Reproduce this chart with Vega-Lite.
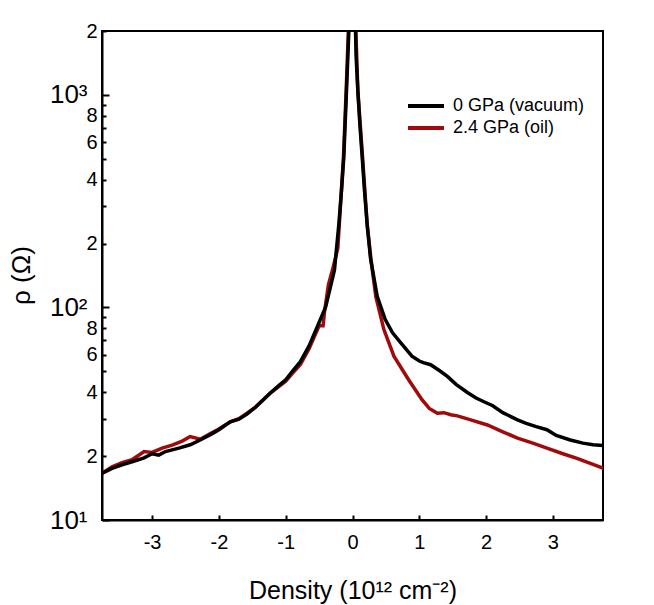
{
  "$schema": "https://vega.github.io/schema/vega-lite/v6.json",
  "width": 501,
  "height": 489,
  "autosize": {"type": "none"},
  "padding": {"left": 102, "top": 31, "right": 51, "bottom": 85},
  "config": {
    "font": "Liberation Sans",
    "view": {"stroke": "#000000", "strokeWidth": 2},
    "axis": {"grid": false, "domainColor": "#000000", "domainWidth": 2, "tickColor": "#000000", "tickWidth": 2, "labelColor": "#000000", "titleColor": "#000000", "titleFontWeight": "normal", "labelFlush": false, "labelOverlap": false, "labelBound": false}
  },
  "datasets": {
    "curves": [
      {"d": -3.76, "r": 16.5, "s": "2.4 GPa (oil)"},
      {"d": -3.6, "r": 17.8, "s": "2.4 GPa (oil)"},
      {"d": -3.45, "r": 18.6, "s": "2.4 GPa (oil)"},
      {"d": -3.3, "r": 19.2, "s": "2.4 GPa (oil)"},
      {"d": -3.12, "r": 21.0, "s": "2.4 GPa (oil)"},
      {"d": -3.0, "r": 20.8, "s": "2.4 GPa (oil)"},
      {"d": -2.85, "r": 21.8, "s": "2.4 GPa (oil)"},
      {"d": -2.7, "r": 22.5, "s": "2.4 GPa (oil)"},
      {"d": -2.55, "r": 23.5, "s": "2.4 GPa (oil)"},
      {"d": -2.43, "r": 24.7, "s": "2.4 GPa (oil)"},
      {"d": -2.28, "r": 24.0, "s": "2.4 GPa (oil)"},
      {"d": -2.1, "r": 25.8, "s": "2.4 GPa (oil)"},
      {"d": -2.0, "r": 26.8, "s": "2.4 GPa (oil)"},
      {"d": -1.83, "r": 29.0, "s": "2.4 GPa (oil)"},
      {"d": -1.7, "r": 30.0, "s": "2.4 GPa (oil)"},
      {"d": -1.58, "r": 31.8, "s": "2.4 GPa (oil)"},
      {"d": -1.45, "r": 34.0, "s": "2.4 GPa (oil)"},
      {"d": -1.23, "r": 39.6, "s": "2.4 GPa (oil)"},
      {"d": -1.1, "r": 42.5, "s": "2.4 GPa (oil)"},
      {"d": -1.0, "r": 45.0, "s": "2.4 GPa (oil)"},
      {"d": -0.9, "r": 49.0, "s": "2.4 GPa (oil)"},
      {"d": -0.78, "r": 54.0, "s": "2.4 GPa (oil)"},
      {"d": -0.65, "r": 64.0, "s": "2.4 GPa (oil)"},
      {"d": -0.5, "r": 82.0, "s": "2.4 GPa (oil)"},
      {"d": -0.44, "r": 82.0, "s": "2.4 GPa (oil)"},
      {"d": -0.42, "r": 95.0, "s": "2.4 GPa (oil)"},
      {"d": -0.36, "r": 128.0, "s": "2.4 GPa (oil)"},
      {"d": -0.3, "r": 150.0, "s": "2.4 GPa (oil)"},
      {"d": -0.22, "r": 190.0, "s": "2.4 GPa (oil)"},
      {"d": -0.17, "r": 340.0, "s": "2.4 GPa (oil)"},
      {"d": -0.135, "r": 511.0, "s": "2.4 GPa (oil)"},
      {"d": -0.095, "r": 1045.0, "s": "2.4 GPa (oil)"},
      {"d": -0.062, "r": 2000.0, "s": "2.4 GPa (oil)"},
      {"d": -0.005, "r": 3500.0, "s": "2.4 GPa (oil)"},
      {"d": 0.05, "r": 2000.0, "s": "2.4 GPa (oil)"},
      {"d": 0.08, "r": 1045.0, "s": "2.4 GPa (oil)"},
      {"d": 0.15, "r": 511.0, "s": "2.4 GPa (oil)"},
      {"d": 0.22, "r": 245.0, "s": "2.4 GPa (oil)"},
      {"d": 0.28, "r": 165.0, "s": "2.4 GPa (oil)"},
      {"d": 0.35, "r": 112.0, "s": "2.4 GPa (oil)"},
      {"d": 0.47, "r": 78.7, "s": "2.4 GPa (oil)"},
      {"d": 0.62, "r": 59.0, "s": "2.4 GPa (oil)"},
      {"d": 0.84, "r": 45.7, "s": "2.4 GPa (oil)"},
      {"d": 1.04, "r": 36.8, "s": "2.4 GPa (oil)"},
      {"d": 1.15, "r": 33.5, "s": "2.4 GPa (oil)"},
      {"d": 1.27, "r": 31.8, "s": "2.4 GPa (oil)"},
      {"d": 1.37, "r": 32.0, "s": "2.4 GPa (oil)"},
      {"d": 1.47, "r": 31.3, "s": "2.4 GPa (oil)"},
      {"d": 1.57, "r": 30.9, "s": "2.4 GPa (oil)"},
      {"d": 1.77, "r": 29.6, "s": "2.4 GPa (oil)"},
      {"d": 2.02, "r": 28.0, "s": "2.4 GPa (oil)"},
      {"d": 2.25, "r": 26.0, "s": "2.4 GPa (oil)"},
      {"d": 2.47, "r": 24.3, "s": "2.4 GPa (oil)"},
      {"d": 2.7, "r": 23.0, "s": "2.4 GPa (oil)"},
      {"d": 2.91, "r": 21.8, "s": "2.4 GPa (oil)"},
      {"d": 3.15, "r": 20.5, "s": "2.4 GPa (oil)"},
      {"d": 3.36, "r": 19.5, "s": "2.4 GPa (oil)"},
      {"d": 3.55, "r": 18.5, "s": "2.4 GPa (oil)"},
      {"d": 3.76, "r": 17.5, "s": "2.4 GPa (oil)"},
      {"d": -3.76, "r": 16.5, "s": "0 GPa (vacuum)"},
      {"d": -3.6, "r": 17.5, "s": "0 GPa (vacuum)"},
      {"d": -3.45, "r": 18.2, "s": "0 GPa (vacuum)"},
      {"d": -3.3, "r": 18.8, "s": "0 GPa (vacuum)"},
      {"d": -3.12, "r": 19.6, "s": "0 GPa (vacuum)"},
      {"d": -3.0, "r": 20.5, "s": "0 GPa (vacuum)"},
      {"d": -2.9, "r": 20.2, "s": "0 GPa (vacuum)"},
      {"d": -2.8, "r": 21.0, "s": "0 GPa (vacuum)"},
      {"d": -2.6, "r": 21.8, "s": "0 GPa (vacuum)"},
      {"d": -2.43, "r": 22.6, "s": "0 GPa (vacuum)"},
      {"d": -2.28, "r": 23.8, "s": "0 GPa (vacuum)"},
      {"d": -2.1, "r": 25.5, "s": "0 GPa (vacuum)"},
      {"d": -2.0, "r": 26.6, "s": "0 GPa (vacuum)"},
      {"d": -1.83, "r": 29.0, "s": "0 GPa (vacuum)"},
      {"d": -1.7, "r": 29.8, "s": "0 GPa (vacuum)"},
      {"d": -1.58, "r": 31.5, "s": "0 GPa (vacuum)"},
      {"d": -1.45, "r": 34.0, "s": "0 GPa (vacuum)"},
      {"d": -1.23, "r": 39.6, "s": "0 GPa (vacuum)"},
      {"d": -1.1, "r": 43.0, "s": "0 GPa (vacuum)"},
      {"d": -1.0, "r": 45.7, "s": "0 GPa (vacuum)"},
      {"d": -0.9, "r": 50.0, "s": "0 GPa (vacuum)"},
      {"d": -0.78, "r": 55.6, "s": "0 GPa (vacuum)"},
      {"d": -0.65, "r": 66.0, "s": "0 GPa (vacuum)"},
      {"d": -0.5, "r": 85.0, "s": "0 GPa (vacuum)"},
      {"d": -0.4, "r": 101.0, "s": "0 GPa (vacuum)"},
      {"d": -0.33, "r": 125.0, "s": "0 GPa (vacuum)"},
      {"d": -0.27, "r": 150.0, "s": "0 GPa (vacuum)"},
      {"d": -0.205, "r": 245.0, "s": "0 GPa (vacuum)"},
      {"d": -0.165, "r": 354.0, "s": "0 GPa (vacuum)"},
      {"d": -0.13, "r": 511.0, "s": "0 GPa (vacuum)"},
      {"d": -0.11, "r": 730.0, "s": "0 GPa (vacuum)"},
      {"d": -0.09, "r": 1045.0, "s": "0 GPa (vacuum)"},
      {"d": -0.07, "r": 1500.0, "s": "0 GPa (vacuum)"},
      {"d": -0.055, "r": 2000.0, "s": "0 GPa (vacuum)"},
      {"d": -0.005, "r": 3500.0, "s": "0 GPa (vacuum)"},
      {"d": 0.045, "r": 2000.0, "s": "0 GPa (vacuum)"},
      {"d": 0.055, "r": 1500.0, "s": "0 GPa (vacuum)"},
      {"d": 0.08, "r": 1045.0, "s": "0 GPa (vacuum)"},
      {"d": 0.11, "r": 730.0, "s": "0 GPa (vacuum)"},
      {"d": 0.145, "r": 511.0, "s": "0 GPa (vacuum)"},
      {"d": 0.18, "r": 354.0, "s": "0 GPa (vacuum)"},
      {"d": 0.22, "r": 245.0, "s": "0 GPa (vacuum)"},
      {"d": 0.27, "r": 170.0, "s": "0 GPa (vacuum)"},
      {"d": 0.37, "r": 113.0, "s": "0 GPa (vacuum)"},
      {"d": 0.49, "r": 87.7, "s": "0 GPa (vacuum)"},
      {"d": 0.6, "r": 76.0, "s": "0 GPa (vacuum)"},
      {"d": 0.72, "r": 68.4, "s": "0 GPa (vacuum)"},
      {"d": 0.89, "r": 59.0, "s": "0 GPa (vacuum)"},
      {"d": 1.0, "r": 56.0, "s": "0 GPa (vacuum)"},
      {"d": 1.06, "r": 55.0, "s": "0 GPa (vacuum)"},
      {"d": 1.17, "r": 53.8, "s": "0 GPa (vacuum)"},
      {"d": 1.3, "r": 50.5, "s": "0 GPa (vacuum)"},
      {"d": 1.42, "r": 47.4, "s": "0 GPa (vacuum)"},
      {"d": 1.55, "r": 43.5, "s": "0 GPa (vacuum)"},
      {"d": 1.72, "r": 39.8, "s": "0 GPa (vacuum)"},
      {"d": 1.85, "r": 37.5, "s": "0 GPa (vacuum)"},
      {"d": 1.96, "r": 36.1, "s": "0 GPa (vacuum)"},
      {"d": 2.1, "r": 34.5, "s": "0 GPa (vacuum)"},
      {"d": 2.25, "r": 32.0, "s": "0 GPa (vacuum)"},
      {"d": 2.47, "r": 29.6, "s": "0 GPa (vacuum)"},
      {"d": 2.6, "r": 28.5, "s": "0 GPa (vacuum)"},
      {"d": 2.75, "r": 27.5, "s": "0 GPa (vacuum)"},
      {"d": 2.91, "r": 26.6, "s": "0 GPa (vacuum)"},
      {"d": 3.05, "r": 25.0, "s": "0 GPa (vacuum)"},
      {"d": 3.26, "r": 23.8, "s": "0 GPa (vacuum)"},
      {"d": 3.45, "r": 23.0, "s": "0 GPa (vacuum)"},
      {"d": 3.6, "r": 22.6, "s": "0 GPa (vacuum)"},
      {"d": 3.76, "r": 22.4, "s": "0 GPa (vacuum)"}
    ]
  },
  "data": {"name": "curves"},
  "encoding": {
    "x": {
      "field": "d", "type": "quantitative",
      "scale": {"domain": [-3.75, 3.75], "nice": false, "zero": false},
      "axis": {
        "values": [-3, -2, -1, 0, 1, 2, 3],
        "labelExpr": "'' + datum.value",
        "labelFontSize": 20,
        "tickSize": -5,
        "labelPadding": 17,
        "title": "Density (10¹² cm⁻²)",
        "titleFontSize": 25,
        "titlePadding": 26
      }
    },
    "y": {
      "field": "r", "type": "quantitative",
      "scale": {"type": "log", "domain": [10, 2000], "nice": false},
      "axis": {
        "values": [10, 20, 30, 40, 50, 60, 70, 80, 90, 100, 200, 300, 400, 500, 600, 700, 800, 900, 1000, 2000],
        "labelExpr": "datum.value == 10 ? '10¹' : datum.value == 100 ? '10²' : datum.value == 1000 ? '10³' : ((datum.value < 100 ? datum.value / 10 : datum.value < 1000 ? datum.value / 100 : datum.value / 1000) % 2 == 0 ? format(datum.value < 100 ? datum.value / 10 : datum.value < 1000 ? datum.value / 100 : datum.value / 1000, 'd') : '')",
        "labelFontSize": {"condition": {"test": "datum.value == 10 || datum.value == 100 || datum.value == 1000", "value": 26}, "value": 20},
        "labelPadding": {"condition": {"test": "datum.value == 10 || datum.value == 100 || datum.value == 1000", "value": 22}, "value": 9},
        "tickSize": {"condition": {"test": "datum.value == 10 || datum.value == 100 || datum.value == 1000", "value": -7}, "value": -4},
        "title": "ρ (Ω)",
        "titleFontSize": 26,
        "titleX": -68,
        "titleY": 244,
        "titleAngle": -90,
        "titleBaseline": "bottom",
        "titleAlign": "center"
      }
    },
    "color": {
      "field": "s", "type": "nominal",
      "scale": {"domain": ["0 GPa (vacuum)", "2.4 GPa (oil)"], "range": ["#000000", "#a00a0a"]},
      "legend": {
        "orient": "none", "legendX": 313, "legendY": 64,
        "title": null,
        "symbolType": "M-2,0H2", "symbolSize": 324, "symbolStrokeWidth": 4,
        "labelFontSize": 18, "labelOffset": 16, "labelColor": "#000000",
        "rowPadding": 2
      }
    }
  },
  "layer": [
    {"transform": [{"filter": "datum.s == '2.4 GPa (oil)'"}], "mark": {"type": "line", "strokeWidth": 3.5, "clip": true}},
    {"transform": [{"filter": "datum.s == '0 GPa (vacuum)'"}], "mark": {"type": "line", "strokeWidth": 3.5, "clip": true}}
  ]
}
